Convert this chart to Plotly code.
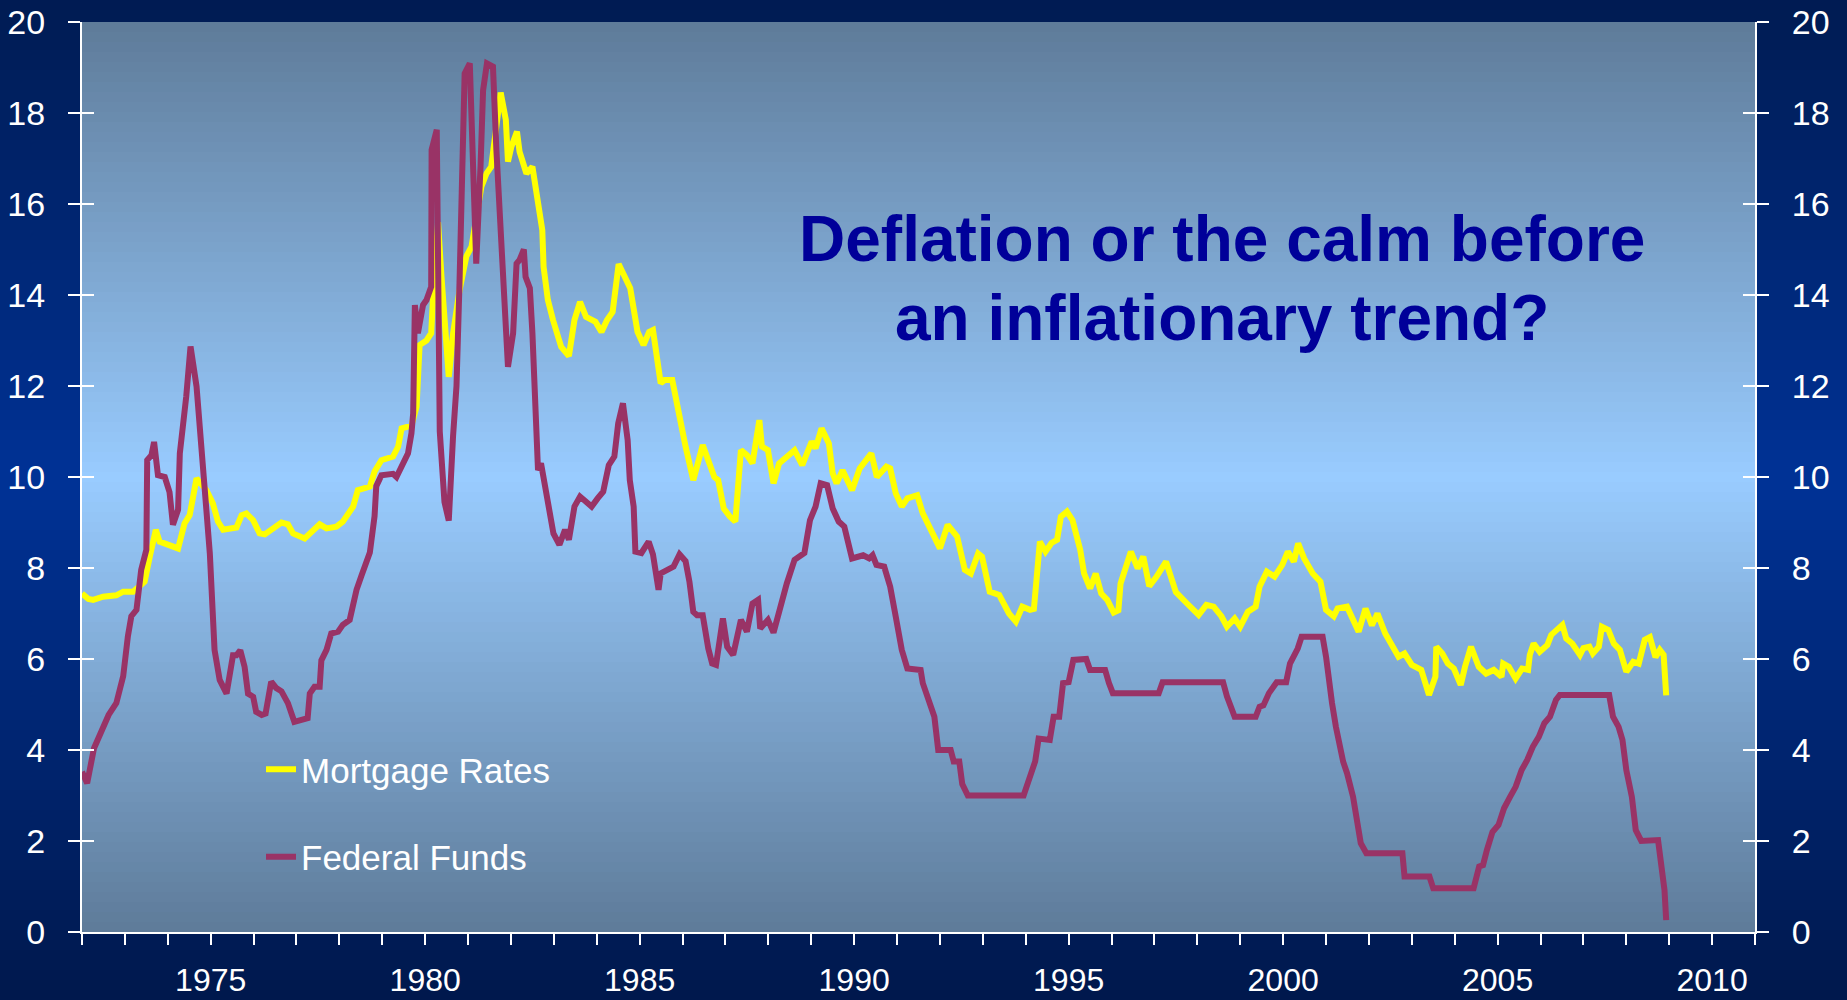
import plotly.graph_objects as go

# ---------------- data ----------------
mortgage_year = [
    1972.00, 1972.15, 1972.26, 1972.49, 1972.80, 1972.96, 1973.19, 1973.46, 1973.58, 1973.72,
    1973.81, 1974.04, 1974.24, 1974.39, 1974.51, 1974.67, 1974.90, 1975.05, 1975.17, 1975.29,
    1975.60, 1975.72, 1975.83, 1975.99, 1976.14, 1976.26, 1976.45, 1976.65, 1976.80, 1976.92,
    1977.19, 1977.38, 1977.54, 1977.70, 1977.93, 1978.08, 1978.32, 1978.43, 1978.71, 1978.82,
    1978.98, 1979.25, 1979.37, 1979.45, 1979.68, 1979.80, 1979.87, 1980.03, 1980.14, 1980.22,
    1980.30, 1980.38, 1980.50, 1980.55, 1980.65, 1980.80, 1980.96, 1981.08, 1981.31, 1981.43,
    1981.54, 1981.66, 1981.76, 1981.88, 1981.93, 1982.01, 1982.14, 1982.20, 1982.28, 1982.36,
    1982.50, 1982.63, 1982.73, 1982.76, 1982.86, 1982.98, 1983.04, 1983.17, 1983.35, 1983.48,
    1983.61, 1983.75, 1983.97, 1984.11, 1984.24, 1984.37, 1984.51, 1984.78, 1984.95, 1985.09,
    1985.22, 1985.31, 1985.49, 1985.58, 1985.76, 1985.93, 1986.07, 1986.25, 1986.47, 1986.74,
    1986.83, 1986.96, 1987.10, 1987.23, 1987.36, 1987.50, 1987.63, 1987.79, 1987.85, 1987.99,
    1988.12, 1988.25, 1988.43, 1988.61, 1988.79, 1989.01, 1989.10, 1989.24, 1989.41, 1989.50,
    1989.59, 1989.73, 1989.95, 1990.13, 1990.40, 1990.53, 1990.75, 1990.84, 1990.97, 1991.11,
    1991.24, 1991.47, 1991.60, 1991.78, 1992.00, 1992.18, 1992.40, 1992.58, 1992.72, 1992.89,
    1992.98, 1993.16, 1993.38, 1993.61, 1993.77, 1993.92, 1994.10, 1994.19, 1994.33, 1994.46,
    1994.60, 1994.73, 1994.82, 1994.96, 1995.09, 1995.27, 1995.36, 1995.50, 1995.63, 1995.76,
    1995.90, 1996.05, 1996.16, 1996.21, 1996.45, 1996.61, 1996.74, 1996.88, 1997.05, 1997.27,
    1997.50, 1997.76, 1998.03, 1998.21, 1998.38, 1998.56, 1998.69, 1998.87, 1999.00, 1999.18,
    1999.36, 1999.45, 1999.62, 1999.80, 1999.98, 2000.11, 2000.25, 2000.35, 2000.49, 2000.69,
    2000.87, 2001.00, 2001.18, 2001.27, 2001.49, 2001.76, 2001.92, 2002.07, 2002.20, 2002.38,
    2002.56, 2002.69, 2002.83, 2003.00, 2003.22, 2003.40, 2003.55, 2003.57, 2003.71, 2003.84,
    2003.98, 2004.14, 2004.24, 2004.38, 2004.56, 2004.73, 2004.91, 2005.09, 2005.13, 2005.26,
    2005.42, 2005.57, 2005.71, 2005.75, 2005.84, 2005.98, 2006.16, 2006.25, 2006.51, 2006.60,
    2006.74, 2006.92, 2007.00, 2007.14, 2007.22, 2007.36, 2007.43, 2007.58, 2007.71, 2007.85,
    2008.00, 2008.16, 2008.29, 2008.43, 2008.55, 2008.68, 2008.78, 2008.87, 2008.93,
]
mortgage_rate = [
    7.44, 7.32, 7.30, 7.37, 7.40, 7.48, 7.48, 7.70, 8.25, 8.84,
    8.58, 8.50, 8.43, 8.98, 9.16, 9.97, 9.71, 9.42, 9.02, 8.84,
    8.89, 9.16, 9.20, 9.05, 8.76, 8.74, 8.87, 9.00, 8.96, 8.76,
    8.65, 8.84, 8.96, 8.87, 8.91, 9.02, 9.35, 9.71, 9.79, 10.12,
    10.37, 10.45, 10.67, 11.07, 11.13, 11.55, 12.90, 13.00, 13.16, 14.60,
    15.60, 14.40, 12.50, 12.20, 13.15, 14.10, 14.85, 15.06, 16.38, 16.67,
    16.82, 17.70, 18.45, 17.85, 16.93, 17.26, 17.59, 17.15, 16.90, 16.67,
    16.82, 16.09, 15.43, 14.62, 13.89, 13.45, 13.23, 12.86, 12.66, 13.45,
    13.85, 13.52, 13.41, 13.19, 13.45, 13.63, 14.68, 14.15, 13.19, 12.90,
    13.19, 13.23, 12.06, 12.13, 12.13, 11.25, 10.67, 9.93, 10.70, 10.00,
    9.93, 9.31, 9.13, 9.02, 10.59, 10.48, 10.30, 11.25, 10.67, 10.59,
    9.86, 10.30, 10.45, 10.59, 10.26, 10.78, 10.63, 11.07, 10.74, 10.08,
    9.86, 10.15, 9.71, 10.19, 10.52, 10.00, 10.23, 10.19, 9.64, 9.35,
    9.53, 9.60, 9.20, 8.84, 8.43, 8.95, 8.69, 7.96, 7.88, 8.32,
    8.25, 7.48, 7.41, 7.00, 6.82, 7.15, 7.08, 7.10, 8.58, 8.36,
    8.55, 8.62, 9.13, 9.24, 9.05, 8.40, 7.88, 7.55, 7.88, 7.44,
    7.30, 7.02, 7.07, 7.66, 8.36, 7.99, 8.25, 7.60, 7.81, 8.14,
    7.47, 7.22, 6.97, 7.19, 7.15, 6.94, 6.71, 6.89, 6.71, 7.04,
    7.15, 7.59, 7.92, 7.81, 8.07, 8.36, 8.14, 8.54, 8.21, 7.88,
    7.70, 7.08, 6.94, 7.11, 7.15, 6.60, 7.11, 6.74, 7.00, 6.56,
    6.27, 6.05, 6.12, 5.87, 5.76, 5.21, 5.61, 6.27, 6.12, 5.90,
    5.79, 5.43, 5.83, 6.27, 5.83, 5.68, 5.76, 5.61, 5.90, 5.83,
    5.57, 5.79, 5.76, 6.09, 6.34, 6.16, 6.31, 6.53, 6.75, 6.45,
    6.34, 6.09, 6.24, 6.27, 6.12, 6.27, 6.71, 6.64, 6.34, 6.20,
    5.72, 5.94, 5.90, 6.42, 6.48, 6.04, 6.20, 6.09, 5.20,
]

fedfunds_year = [
    1972.00, 1972.12, 1972.28, 1972.45, 1972.62, 1972.80, 1972.96, 1973.07, 1973.15, 1973.27,
    1973.38, 1973.50, 1973.52, 1973.62, 1973.68, 1973.77, 1973.93, 1974.04, 1974.12, 1974.24,
    1974.28, 1974.43, 1974.53, 1974.67, 1974.82, 1974.98, 1975.09, 1975.21, 1975.37, 1975.52,
    1975.60, 1975.69, 1975.79, 1975.87, 1975.99, 1976.06, 1976.19, 1976.28, 1976.41, 1976.53,
    1976.65, 1976.80, 1976.95, 1977.13, 1977.26, 1977.31, 1977.42, 1977.54, 1977.58, 1977.70,
    1977.81, 1977.97, 1978.08, 1978.24, 1978.40, 1978.51, 1978.71, 1978.82, 1978.86, 1978.98,
    1979.25, 1979.33, 1979.48, 1979.60, 1979.68, 1979.72, 1979.76, 1979.83, 1979.95, 1980.03,
    1980.14, 1980.15, 1980.27, 1980.34, 1980.45, 1980.55, 1980.65, 1980.73, 1980.80, 1980.92,
    1981.04, 1981.11, 1981.19, 1981.29, 1981.35, 1981.44, 1981.58, 1981.66, 1981.78, 1981.85,
    1981.93, 1982.05, 1982.13, 1982.20, 1982.30, 1982.34, 1982.44, 1982.50, 1982.55, 1982.63,
    1982.70, 1982.80, 1982.90, 1982.99, 1983.13, 1983.26, 1983.35, 1983.48, 1983.61, 1983.88,
    1984.02, 1984.15, 1984.28, 1984.41, 1984.50, 1984.61, 1984.72, 1984.77, 1984.86, 1984.90,
    1985.04, 1985.21, 1985.31, 1985.44, 1985.49, 1985.66, 1985.79, 1985.93, 1986.07, 1986.16,
    1986.25, 1986.34, 1986.47, 1986.60, 1986.69, 1986.78, 1986.94, 1987.04, 1987.18, 1987.36,
    1987.50, 1987.63, 1987.76, 1987.81, 1987.99, 1988.12, 1988.25, 1988.43, 1988.61, 1988.84,
    1988.97, 1989.10, 1989.22, 1989.37, 1989.50, 1989.64, 1989.77, 1989.86, 1989.95, 1990.21,
    1990.35, 1990.43, 1990.52, 1990.70, 1990.84, 1990.97, 1991.11, 1991.24, 1991.55, 1991.60,
    1991.73, 1991.87, 1991.96, 1992.25, 1992.32, 1992.45, 1992.52, 1992.65, 1993.95, 1994.05,
    1994.15, 1994.22, 1994.30, 1994.45, 1994.56, 1994.65, 1994.78, 1994.87, 1995.00, 1995.11,
    1995.41, 1995.50, 1995.85, 1995.94, 1996.03, 1997.10, 1997.19, 1998.60, 1998.69, 1998.87,
    1999.36, 1999.45, 1999.54, 1999.67, 1999.85, 2000.07, 2000.16, 2000.34, 2000.43, 2000.92,
    2001.00, 2001.14, 2001.23, 2001.40, 2001.49, 2001.63, 2001.72, 2001.81, 2001.94, 2002.78,
    2002.83, 2003.41, 2003.50, 2004.44, 2004.57, 2004.66, 2004.75, 2004.88, 2005.02, 2005.15,
    2005.29, 2005.42, 2005.56, 2005.69, 2005.82, 2005.96, 2006.09, 2006.22, 2006.36, 2006.45,
    2007.60, 2007.69, 2007.82, 2007.91, 2008.00, 2008.13, 2008.22, 2008.35, 2008.74, 2008.82,
    2008.89, 2008.93,
]
fedfunds_rate = [
    3.52, 3.27, 4.04, 4.40, 4.77, 5.03, 5.62, 6.50, 6.94, 7.08,
    7.96, 8.40, 10.37, 10.48, 10.77, 10.04, 10.00, 9.67, 8.95, 9.28,
    10.52, 11.77, 12.87, 11.99, 10.00, 8.32, 6.20, 5.54, 5.24, 6.08,
    6.08, 6.19, 5.83, 5.24, 5.17, 4.84, 4.77, 4.80, 5.50, 5.36,
    5.29, 5.03, 4.62, 4.66, 4.70, 5.24, 5.39, 5.39, 5.97, 6.20,
    6.56, 6.60, 6.75, 6.86, 7.52, 7.82, 8.34, 9.14, 9.80, 10.04,
    10.07, 10.00, 10.30, 10.52, 10.96, 11.40, 13.78, 13.16, 13.78, 13.89,
    14.18, 17.19, 17.63, 11.00, 9.45, 9.04, 10.90, 12.00, 14.26, 18.87,
    19.09, 16.82, 14.69, 16.82, 18.50, 19.09, 19.02, 17.19, 15.00, 13.52,
    12.42, 13.16, 14.69, 14.77, 15.00, 14.40, 14.15, 13.16, 11.69, 10.15,
    10.30, 9.70, 9.30, 8.76, 8.51, 8.84, 8.62, 9.35, 9.57, 9.35,
    9.53, 9.68, 10.26, 10.45, 11.18, 11.62, 10.81, 9.93, 9.35, 8.36,
    8.33, 8.58, 8.30, 7.52, 7.88, 7.95, 8.03, 8.30, 8.15, 7.70,
    7.04, 6.96, 6.96, 6.23, 5.90, 5.87, 6.89, 6.27, 6.09, 6.86,
    6.60, 7.22, 7.30, 6.67, 6.86, 6.58, 7.08, 7.66, 8.18, 8.33,
    9.05, 9.35, 9.86, 9.82, 9.31, 9.02, 8.91, 8.54, 8.21, 8.28,
    8.21, 8.28, 8.07, 8.03, 7.59, 6.93, 6.20, 5.79, 5.76, 5.47,
    5.06, 4.73, 4.00, 4.00, 3.75, 3.75, 3.25, 3.00, 3.00, 3.25,
    3.50, 3.75, 4.25, 4.25, 4.22, 4.73, 4.73, 5.47, 5.49, 5.98,
    6.00, 5.76, 5.76, 5.47, 5.25, 5.25, 5.49, 5.49, 5.18, 4.73,
    4.73, 4.95, 4.98, 5.25, 5.49, 5.49, 5.90, 6.23, 6.49, 6.49,
    6.05, 5.03, 4.51, 3.74, 3.49, 2.97, 2.50, 1.95, 1.73, 1.73,
    1.22, 1.22, 0.96, 0.96, 1.44, 1.47, 1.80, 2.20, 2.35, 2.72,
    2.97, 3.19, 3.56, 3.78, 4.07, 4.29, 4.59, 4.73, 5.10, 5.21,
    5.21, 4.73, 4.51, 4.22, 3.56, 2.97, 2.24, 2.00, 2.02, 1.44,
    0.92, 0.26,
]

series_names = ["Mortgage Rates", "Federal Funds"]
title_lines = ["Deflation or the calm before", "an inflationary trend?"]
x_range = [1972, 2011]
y_range = [0, 20]

# ---------------- styling ----------------
W, H = 1847, 1000
ML, MR, MT, MB = 82, 92, 22, 68
PW, PH = W - ML - MR, H - MT - MB
FONT = "Arial, 'Liberation Sans', Helvetica, sans-serif"
YELLOW = "#FFFF00"
MAROON = "#993366"


def lerp(c1, c2, t):
    return tuple(round(a + (b - a) * t) for a, b in zip(c1, c2))


def grad3(top, mid, bot, t, tm=0.5):
    if t <= tm:
        return lerp(top, mid, t / tm)
    return lerp(mid, bot, (t - tm) / (1 - tm))


shapes = []
# outer (paper) gradient
n_out = 100
out_top, out_mid, out_bot = (0, 27, 82), (0, 50, 150), (0, 24, 76)
for i in range(n_out):
    py0 = i * H / n_out
    py1 = (i + 1) * H / n_out + 1
    c = grad3(out_top, out_mid, out_bot, (i + 0.5) / n_out, 0.48)
    shapes.append(dict(
        type="rect", xref="paper", yref="paper", layer="below",
        x0=-ML / PW - 0.01, x1=1 + MR / PW + 0.01,
        y0=1 - (py1 - MT) / PH, y1=1 - (py0 - MT) / PH,
        fillcolor="rgb(%d,%d,%d)" % c, line=dict(width=0),
    ))
# plot-area gradient
n_in = 91
in_top, in_mid, in_bot = (94, 123, 153), (153, 204, 255), (94, 123, 153)
for i in range(n_in):
    t0 = i / n_in
    t1 = min(1.0, (i + 1) / n_in + 0.002)
    c = grad3(in_top, in_mid, in_bot, (i + 0.5) / n_in, 0.5)
    shapes.append(dict(
        type="rect", xref="paper", yref="paper", layer="below",
        x0=0, x1=1, y0=1 - t1, y1=1 - t0,
        fillcolor="rgb(%d,%d,%d)" % c, line=dict(width=0),
    ))

fig = go.Figure()
fig.add_trace(go.Scatter(
    x=mortgage_year, y=mortgage_rate, mode="lines", name=series_names[0],
    line=dict(color=YELLOW, width=6), legendgroup="a", hoverinfo="skip",
))
fig.add_trace(go.Scatter(
    x=fedfunds_year, y=fedfunds_rate, mode="lines", name=series_names[1],
    line=dict(color=MAROON, width=6), legendgroup="b", hoverinfo="skip",
))
# empty helper traces so the extra (tick-only) axes are drawn
for ax in ["y2", "y3", "y4"]:
    fig.add_trace(go.Scatter(x=[], y=[], yaxis=ax, showlegend=False, hoverinfo="skip"))

tick_font = dict(family=FONT, size=34, color="white")
common_y = dict(range=y_range, dtick=2, tick0=0, showgrid=False, zeroline=False,
                fixedrange=True, automargin=False)

fig.update_layout(
    width=W, height=H,
    margin=dict(l=ML, r=MR, t=MT, b=MB, pad=0),
    paper_bgcolor="rgb(0,40,120)",
    plot_bgcolor="rgba(0,0,0,0)",
    shapes=shapes,
    showlegend=True,
    legend=dict(
        x=0.107, y=0.211, xanchor="left", yanchor="top",
        bgcolor="rgba(0,0,0,0)", borderwidth=0,
        font=dict(family=FONT, size=35, color="white"),
        tracegroupgap=39, traceorder="grouped",
    ),
    xaxis=dict(
        range=x_range, tick0=1975, dtick=5, showgrid=False, zeroline=False,
        showline=True, linecolor="white", linewidth=2,
        ticks="outside", ticklen=11, tickwidth=2, tickcolor="white",
        tickfont=dict(family=FONT, size=32, color="white"),
        ticklabelstandoff=8,
        minor=dict(dtick=1, tick0=1972, ticks="outside", ticklen=11,
                   tickwidth=2, tickcolor="white", showgrid=False),
        fixedrange=True, automargin=False,
    ),
    yaxis=dict(
        **common_y, side="left", showline=True, linecolor="white", linewidth=2,
        ticks="outside", ticklen=12, tickwidth=2, tickcolor="white",
        tickfont=tick_font, ticklabelstandoff=16,
    ),
    yaxis2=dict(
        **common_y, side="right", overlaying="y", anchor="x",
        showline=True, linecolor="white", linewidth=2,
        ticks="outside", ticklen=12, tickwidth=2, tickcolor="white",
        tickfont=tick_font, ticklabelstandoff=16,
    ),
    yaxis3=dict(
        **common_y, side="left", overlaying="y", anchor="x",
        showline=False, ticks="inside", ticklen=12, tickwidth=2, tickcolor="white",
        showticklabels=False,
    ),
    yaxis4=dict(
        **common_y, side="right", overlaying="y", anchor="x",
        showline=False, ticks="inside", ticklen=12, tickwidth=2, tickcolor="white",
        showticklabels=False,
    ),
    annotations=[
        dict(text="<b>%s</b>" % title_lines[0], xref="paper", yref="paper",
             x=0.6814, y=0.762, xanchor="center", yanchor="middle", showarrow=False,
             font=dict(family=FONT, size=64, color="#000099")),
        dict(text="<b>%s</b>" % title_lines[1], xref="paper", yref="paper",
             x=0.6814, y=0.675, xanchor="center", yanchor="middle", showarrow=False,
             font=dict(family=FONT, size=64, color="#000099")),
    ],
)

fig.write_html("out.html", config={"displayModeBar": False},
               post_script="document.body.style.margin='0';document.body.style.overflow='hidden';")
